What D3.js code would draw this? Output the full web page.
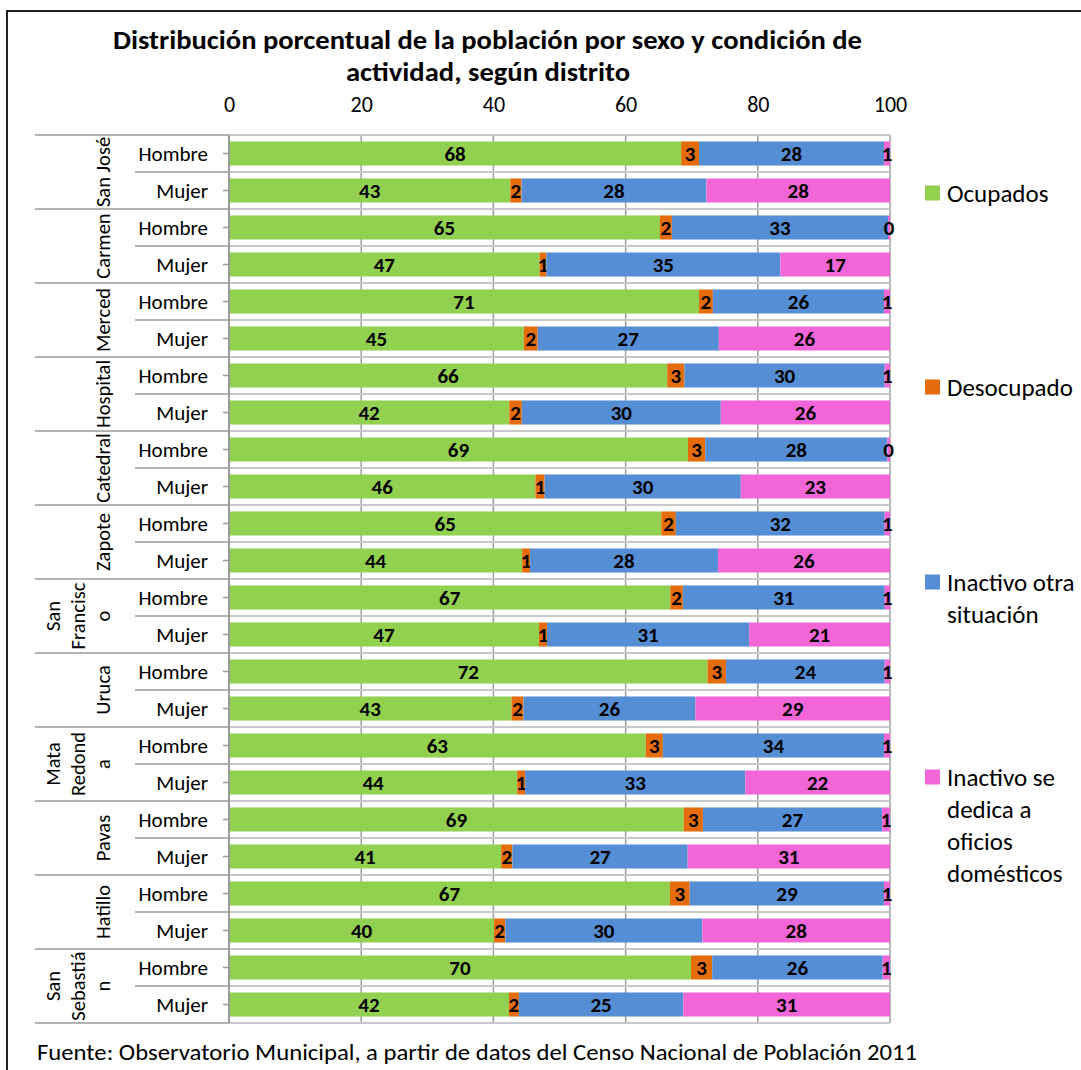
<!DOCTYPE html>
<html>
<head>
<meta charset="utf-8">
<script src="https://cdn.jsdelivr.net/npm/d3@7"></script>
<style>
  body { margin: 0; background: #fff; }
  svg text { font-family: Carlito, Lato, "Open Sans", sans-serif; fill: #000; }
</style>
</head>
<body>
<div id="chart"></div>
<script>
var width = 1081,
  height = 1070;

// districts and sex rows (top to bottom)
var districts = ["San José", "Carmen", "Merced", "Hospital", "Catedral", "Zapote",
  "San Francisco", "Uruca", "Mata Redonda", "Pavas", "Hatillo", "San Sebastián"];
var districtLines = [["San José"], ["Carmen"], ["Merced"], ["Hospital"], ["Catedral"], ["Zapote"],
  ["San", "Francisc", "o"], ["Uruca"], ["Mata", "Redond", "a"], ["Pavas"], ["Hatillo"], ["San", "Sebastiá", "n"]];
var sexes = ["Hombre", "Mujer"];

var seriesNames = ["Ocupados", "Desocupado", "Inactivo otra situación", "Inactivo se dedica a oficios domésticos"];
var legendLines = [["Ocupados"], ["Desocupado"], ["Inactivo otra", "situación"], ["Inactivo se", "dedica a", "oficios", "domésticos"]];
var colors = ["#92D050", "#E46C0A", "#558ED5", "#F266D7"];

// values per row: Hombre then Mujer for each district
var ocupados = [68.4, 42.6, 65.2, 47.0, 71.1, 44.6, 66.3, 42.4, 69.3, 46.4, 65.4, 44.3,
  66.9, 46.9, 72.4, 42.7, 63.1, 43.6, 68.8, 41.3, 66.7, 40.1, 69.9, 42.4];
var desocupado = [2.7, 1.7, 1.8, 1.0, 2.1, 2.1, 2.6, 1.9, 2.6, 1.4, 2.2, 1.2,
  1.9, 1.2, 2.8, 1.8, 2.6, 1.2, 2.9, 1.7, 3.0, 1.7, 3.2, 1.5];
var inactivoOtra = [28.0, 28.0, 32.7, 35.4, 25.9, 27.4, 30.3, 30.1, 27.5, 29.7, 31.6, 28.4,
  30.6, 30.6, 24.0, 26.0, 33.5, 33.3, 27.1, 26.6, 29.4, 29.8, 25.8, 24.9];
var inactivoDom = [0.9, 27.8, 0.3, 16.6, 0.9, 25.9, 0.8, 25.6, 0.4, 22.6, 0.8, 26.0,
  0.8, 21.3, 0.8, 29.4, 0.9, 21.9, 1.2, 30.7, 0.9, 28.4, 1.1, 31.3];

var xTicks = [0, 20, 40, 60, 80, 100];

var rows = [];
districts.forEach(function (d, i) {
  sexes.forEach(function (s, j) {
    var k = i * 2 + j;
    rows.push({
      id: k, district: d, sex: s,
      Ocupados: ocupados[k],
      "Desocupado": desocupado[k],
      "Inactivo otra situación": inactivoOtra[k],
      "Inactivo se dedica a oficios domésticos": inactivoDom[k]
    });
  });
});

var svg = d3.select("#chart").append("svg")
  .attr("width", width)
  .attr("height", height);

// outer chart border
svg.append("rect")
  .attr("x", 7).attr("y", 11)
  .attr("width", 1200).attr("height", 1200)
  .attr("fill", "none")
  .attr("stroke", "#222")
  .attr("stroke-width", 2);

var plotLeft = 229, plotRight = 890, plotTop = 135, plotBottom = 1023;

var x = d3.scaleLinear().domain([0, 100]).range([plotLeft, plotRight]);
var y = d3.scaleBand()
  .domain(rows.map(function (d) { return d.id; }))
  .range([plotTop, plotBottom])
  .paddingInner(0.35)
  .paddingOuter(0.175);
var step = y.step();

var color = d3.scaleOrdinal().domain(seriesNames).range(colors);

// title
svg.append("text")
  .attr("x", 113).attr("y", 49)
  .attr("font-weight", "bold")
  .attr("font-size", 26)
  .attr("textLength", 749)
  .attr("lengthAdjust", "spacingAndGlyphs")
  .text("Distribución porcentual de la población por sexo y condición de");
svg.append("text")
  .attr("x", 346).attr("y", 81)
  .attr("font-weight", "bold")
  .attr("font-size", 26)
  .attr("textLength", 284)
  .attr("lengthAdjust", "spacingAndGlyphs")
  .text("actividad, según distrito");

// x gridlines
svg.append("g")
  .selectAll("line")
  .data(xTicks.slice(1))
  .enter().append("line")
  .attr("x1", function (d) { return x(d); })
  .attr("x2", function (d) { return x(d); })
  .attr("y1", plotTop)
  .attr("y2", plotBottom)
  .attr("stroke", "#a0a0a0")
  .attr("stroke-width", 1.5);

// horizontal lines at row boundaries across plot
var bounds = d3.range(rows.length + 1).map(function (i) { return plotTop + i * step; });
svg.append("g")
  .selectAll("line")
  .data(bounds)
  .enter().append("line")
  .attr("x1", plotLeft)
  .attr("x2", plotRight)
  .attr("y1", function (d) { return d; })
  .attr("y2", function (d) { return d; })
  .attr("stroke", "#c8c8c8")
  .attr("stroke-width", 2);

// x axis labels at top
var xAxis = d3.axisTop(x).tickValues(xTicks).tickSize(0).tickPadding(0);
var gx = svg.append("g")
  .attr("transform", "translate(0,112)")
  .call(xAxis);
gx.select(".domain").remove();
gx.selectAll("text")
  .attr("font-size", 22)
  .attr("font-family", "Carlito, Lato, 'Open Sans', sans-serif")
  .attr("fill", "#000");

// stacked bars
var stack = d3.stack().keys(seriesNames).offset(d3.stackOffsetExpand);
var series = stack(rows);

var layer = svg.append("g")
  .selectAll("g")
  .data(series)
  .enter().append("g")
  .attr("fill", function (d) { return color(d.key); });

layer.selectAll("rect")
  .data(function (d) { return d; })
  .enter().append("rect")
  .attr("x", function (d) { return x(d[0] * 100); })
  .attr("y", function (d) { return y(d.data.id); })
  .attr("width", function (d) { return x(d[1] * 100) - x(d[0] * 100); })
  .attr("height", y.bandwidth());

layer.selectAll("text")
  .data(function (d) { return d.map(function (p) { p.key = d.key; return p; }); })
  .enter().append("text")
  .attr("x", function (d) { return x((d[0] + d[1]) / 2 * 100); })
  .attr("y", function (d) { return y(d.data.id) + y.bandwidth() / 2; })
  .attr("dy", "0.36em")
  .attr("text-anchor", "middle")
  .attr("font-size", 21)
  .attr("font-weight", "bold")
  .attr("fill", "#000")
  .text(function (d) { return d3.format(".0f")(d.data[d.key]); });

// category axis line
svg.append("line")
  .attr("x1", plotLeft).attr("x2", plotLeft)
  .attr("y1", plotTop).attr("y2", plotBottom)
  .attr("stroke", "#9a9a9a")
  .attr("stroke-width", 2);

// small tick marks at row centres
svg.append("g")
  .selectAll("line")
  .data(rows)
  .enter().append("line")
  .attr("x1", plotLeft - 6).attr("x2", plotLeft)
  .attr("y1", function (d) { return y(d.id) + y.bandwidth() / 2; })
  .attr("y2", function (d) { return y(d.id) + y.bandwidth() / 2; })
  .attr("stroke", "#9a9a9a")
  .attr("stroke-width", 1.5);

// separators in label area
svg.append("g")
  .selectAll("line")
  .data(bounds)
  .enter().append("line")
  .attr("x1", function (d, i) { return i % 2 === 0 ? 35 : 135; })
  .attr("x2", plotLeft)
  .attr("y1", function (d) { return d; })
  .attr("y2", function (d) { return d; })
  .attr("stroke", "#9a9a9a")
  .attr("stroke-width", 1.5);

// sex labels
svg.append("g")
  .selectAll("text")
  .data(rows)
  .enter().append("text")
  .attr("x", 208)
  .attr("y", function (d) { return y(d.id) + y.bandwidth() / 2; })
  .attr("dy", "0.36em")
  .attr("text-anchor", "end")
  .attr("font-size", 21)
  .text(function (d) { return d.sex; });

// district labels, rotated
var dl = svg.append("g")
  .selectAll("text")
  .data(districts)
  .enter().append("text")
  .attr("transform", function (d, i) {
    var cy = plotTop + (i * 2 + 1) * step;
    return "translate(103," + cy + ") rotate(-90)";
  })
  .attr("text-anchor", "middle")
  .attr("font-size", 20.5);

dl.each(function (d, i) {
  var lines = districtLines[i];
  var n = lines.length;
  d3.select(this).selectAll("tspan")
    .data(lines)
    .enter().append("tspan")
    .attr("x", 0)
    .attr("y", function (l, j) { return (j - (n - 1)) * 25; })
    .attr("dy", "0.36em")
    .text(function (l) { return l; });
});

// legend
var legendY = [193, 387, 582, 777];
var lg = svg.append("g")
  .selectAll("g")
  .data(seriesNames)
  .enter().append("g")
  .attr("transform", function (d, i) { return "translate(925," + legendY[i] + ")"; });

lg.append("rect")
  .attr("x", 0).attr("y", -7.5)
  .attr("width", 15).attr("height", 15)
  .attr("fill", function (d) { return color(d); });

lg.append("text")
  .attr("font-size", 25)
  .each(function (d, i) {
    d3.select(this).selectAll("tspan")
      .data(legendLines[i])
      .enter().append("tspan")
      .attr("x", 22)
      .attr("y", function (l, j) { return j * 32; })
      .attr("dy", "0.36em")
      .text(function (l) { return l; });
  });

// source note
svg.append("text")
  .attr("x", 37)
  .attr("y", 1060)
  .attr("font-size", 22)
  .attr("textLength", 880)
  .attr("lengthAdjust", "spacingAndGlyphs")
  .text("Fuente: Observatorio Municipal, a partir de datos del Censo Nacional de Población 2011");
</script>
</body>
</html>
